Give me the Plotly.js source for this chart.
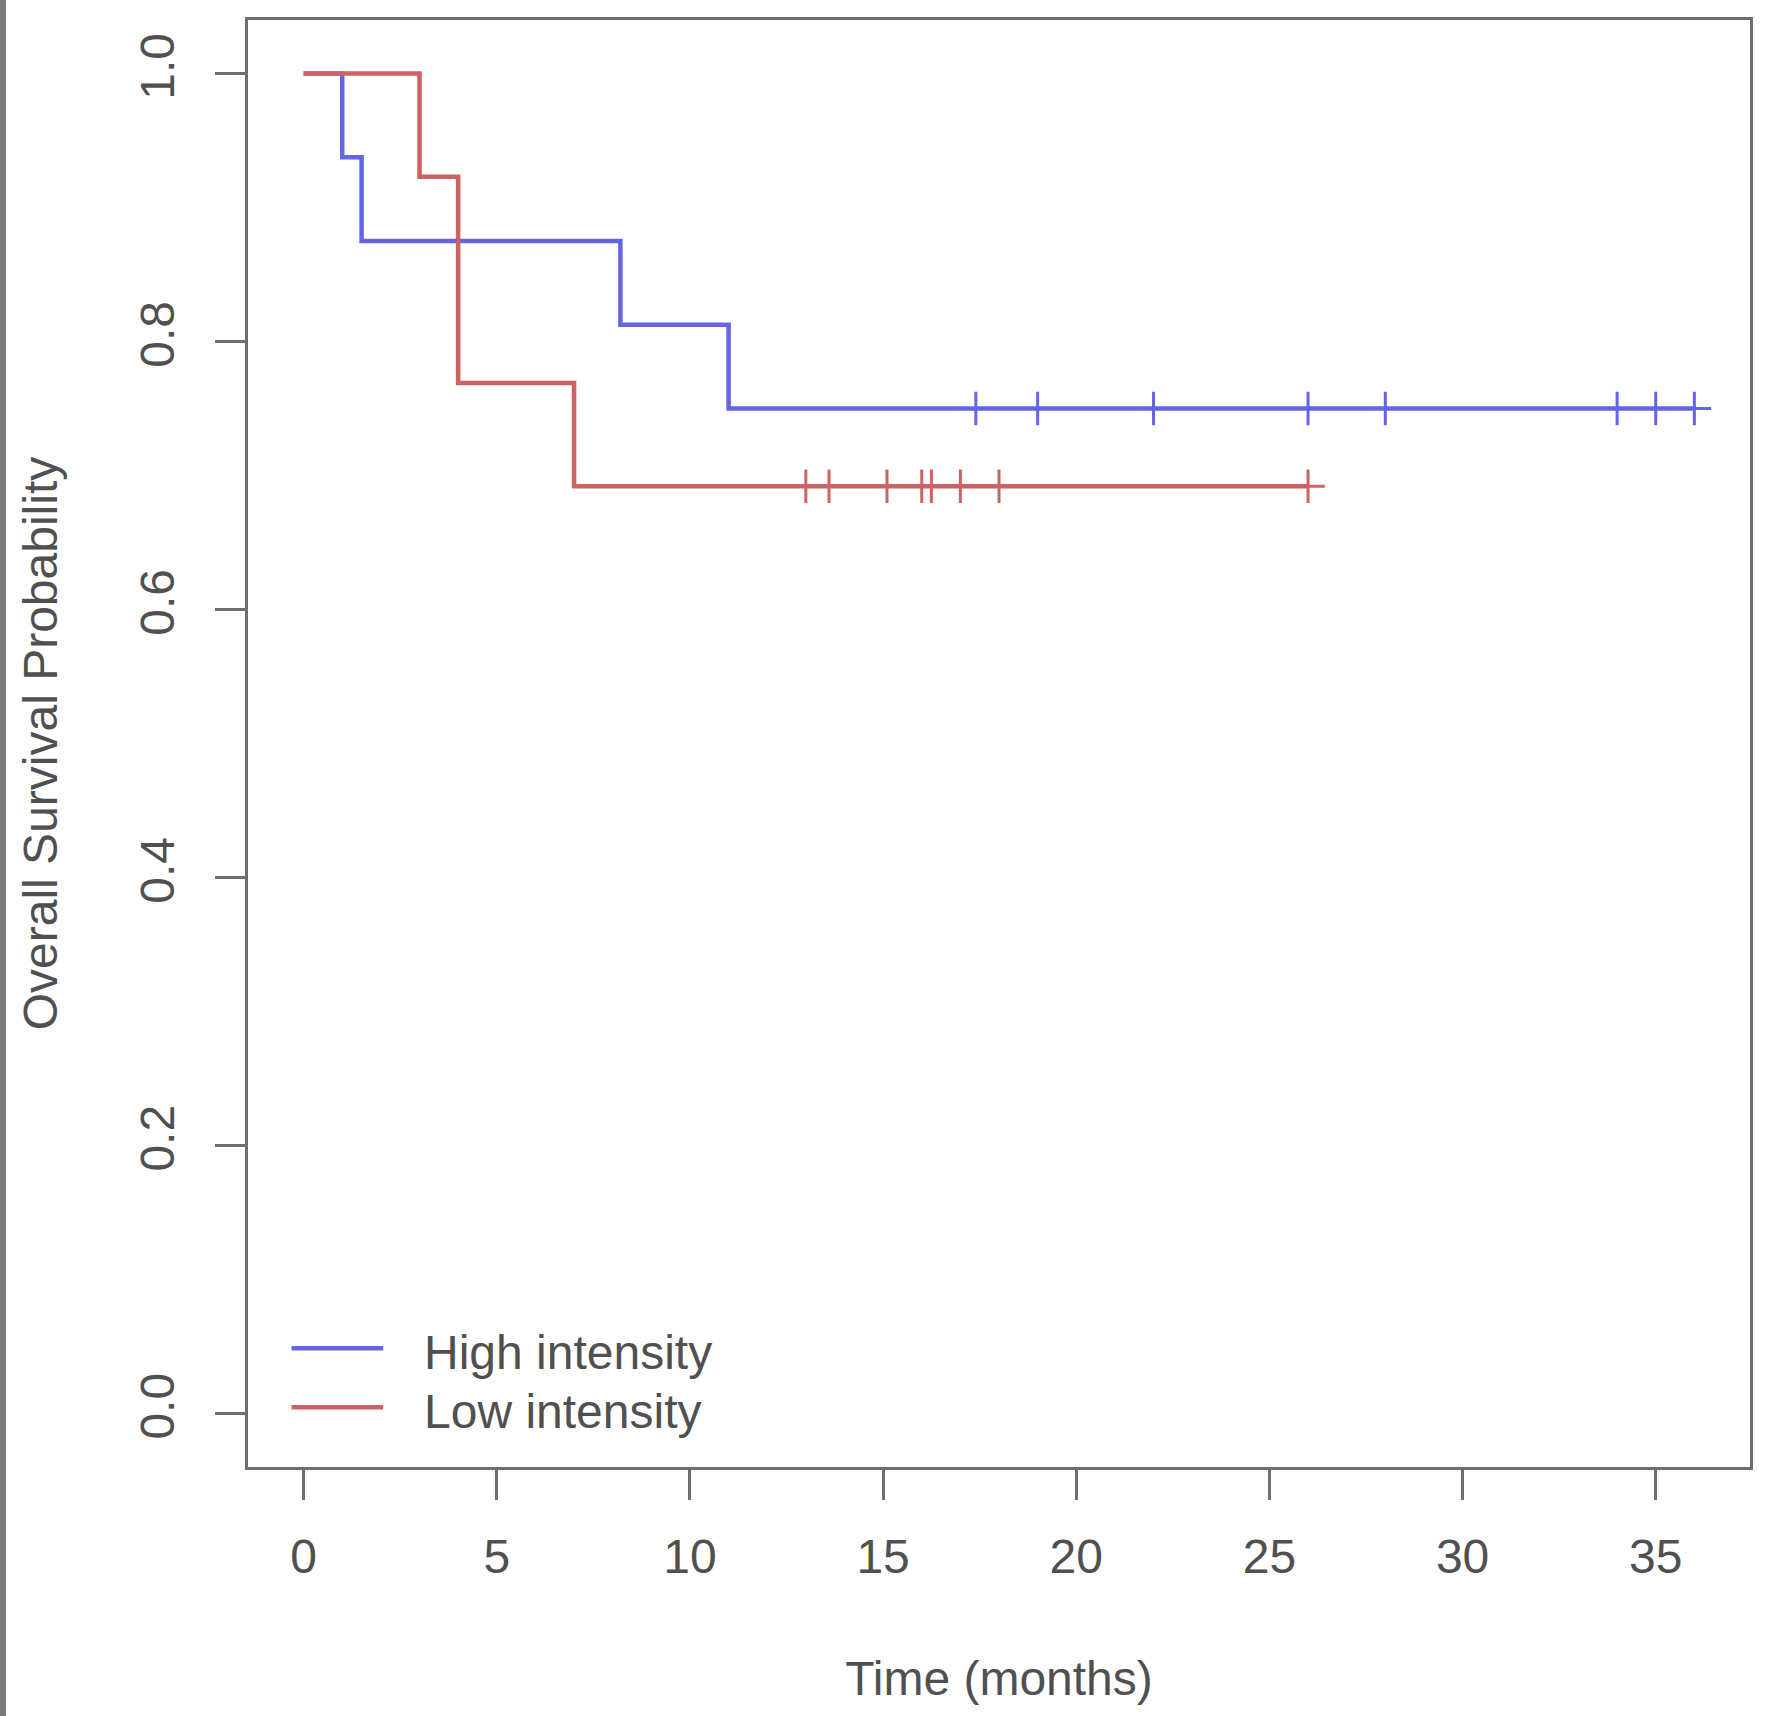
<!DOCTYPE html>
<html>
<head>
<meta charset="utf-8">
<script src="https://cdn.plot.ly/plotly-3.0.1.min.js"></script>
<style>
  html, body { margin: 0; padding: 0; background: #fff; }
  #edge { position: absolute; left: 0; top: 0; width: 6px; height: 1716px; background: #7a7a7a; z-index: 5; }
</style>
</head>
<body>
<div id="edge"></div>
<div id="chart" style="width:1772px;height:1716px;"></div>
<script>
// Kaplan-Meier steps
const highTime = [0, 1, 1.5, 8.2, 11, 36];
const highSurv = [1, 0.9375, 0.875, 0.8125, 0.75, 0.75];
const highCensor = [17.4, 19, 22, 26, 28, 34, 35, 36];

const lowTime = [0, 3, 4, 7, 26];
const lowSurv = [1, 0.923, 0.769, 0.692, 0.692];
const lowCensor = [13, 13.6, 15.1, 16, 16.25, 17, 18, 26];

const groupNames = ["High intensity", "Low intensity"];
const xTicks = [0, 5, 10, 15, 20, 25, 30, 35];
const yTicks = [0, 0.2, 0.4, 0.6, 0.8, 1.0];
const yTickText = ["0.0", "0.2", "0.4", "0.6", "0.8", "1.0"];

const blue = "#6464e6";
const red = "#cc6262";
const grey = "#6e6e6e";
const textGrey = "#505050";
const font = "Liberation Sans, Arial, sans-serif";

// survival level at time t (step function)
function survAt(times, surv, t) {
    let s = surv[0];
    times.forEach((v, i) => { if (v <= t) s = surv[i]; });
    return s;
}

function stepTrace(times, surv, color) {
    return {
        x: times, y: surv,
        type: 'scatter', mode: 'lines',
        line: { color: color, width: 4.5, shape: 'hv' },
        hoverinfo: 'skip', showlegend: false
    };
}

function censorTrace(times, surv, censor, color) {
    return {
        x: censor,
        y: censor.map(t => survAt(times, surv, t)),
        type: 'scatter', mode: 'markers',
        marker: { symbol: 'cross-thin', size: 24, color: color, line: { color: color, width: 3 } },
        hoverinfo: 'skip', showlegend: false
    };
}

const traces = [
    stepTrace(highTime, highSurv, blue),
    stepTrace(lowTime, lowSurv, red),
    censorTrace(highTime, highSurv, highCensor, blue),
    censorTrace(lowTime, lowSurv, lowCensor, red)
];

// hand-made legend, R style, bottom left inside the box
const legendRows = [0.0821, 0.0413];
const legendColors = [blue, red];
const shapes = legendRows.map((y, i) => ({
    type: 'line', xref: 'paper', yref: 'paper',
    x0: 0.029, x1: 0.090, y0: y, y1: y,
    line: { color: legendColors[i], width: 4.5 }
}));
const annotations = legendRows.map((y, i) => ({
    xref: 'paper', yref: 'paper', x: 0.116, y: y - 0.003,
    xanchor: 'left', yanchor: 'middle', showarrow: false,
    text: groupNames[i], font: { family: font, size: 48, color: textGrey }
}));

const axisCommon = {
    showgrid: false, zeroline: false,
    showline: true, mirror: true, linecolor: grey, linewidth: 3,
    ticks: 'outside', ticklen: 30, tickwidth: 3, tickcolor: grey,
    tickfont: { family: font, size: 48, color: textGrey },
    fixedrange: true
};

const layout = {
    width: 1772, height: 1716,
    margin: { l: 248, r: 22, t: 20, b: 249 },
    paper_bgcolor: '#fff', plot_bgcolor: '#fff',
    showlegend: false,
    xaxis: Object.assign({}, axisCommon, {
        range: [-1.44, 37.44],
        tickvals: xTicks,
        ticktext: xTicks.map(String),
        ticklabelstandoff: 15,
        title: { text: 'Time (months)', font: { family: font, size: 48, color: textGrey }, standoff: 80 }
    }),
    yaxis: Object.assign({}, axisCommon, {
        range: [-0.04, 1.04],
        tickvals: yTicks,
        ticktext: yTickText,
        tickangle: -90,
        ticklabelstandoff: 22,
        title: { text: 'Overall Survival Probability', font: { family: font, size: 48, color: textGrey }, standoff: 58 }
    }),
    shapes: shapes,
    annotations: annotations
};

Plotly.newPlot('chart', traces, layout, { displayModeBar: false, staticPlot: true });
</script>
</body>
</html>
